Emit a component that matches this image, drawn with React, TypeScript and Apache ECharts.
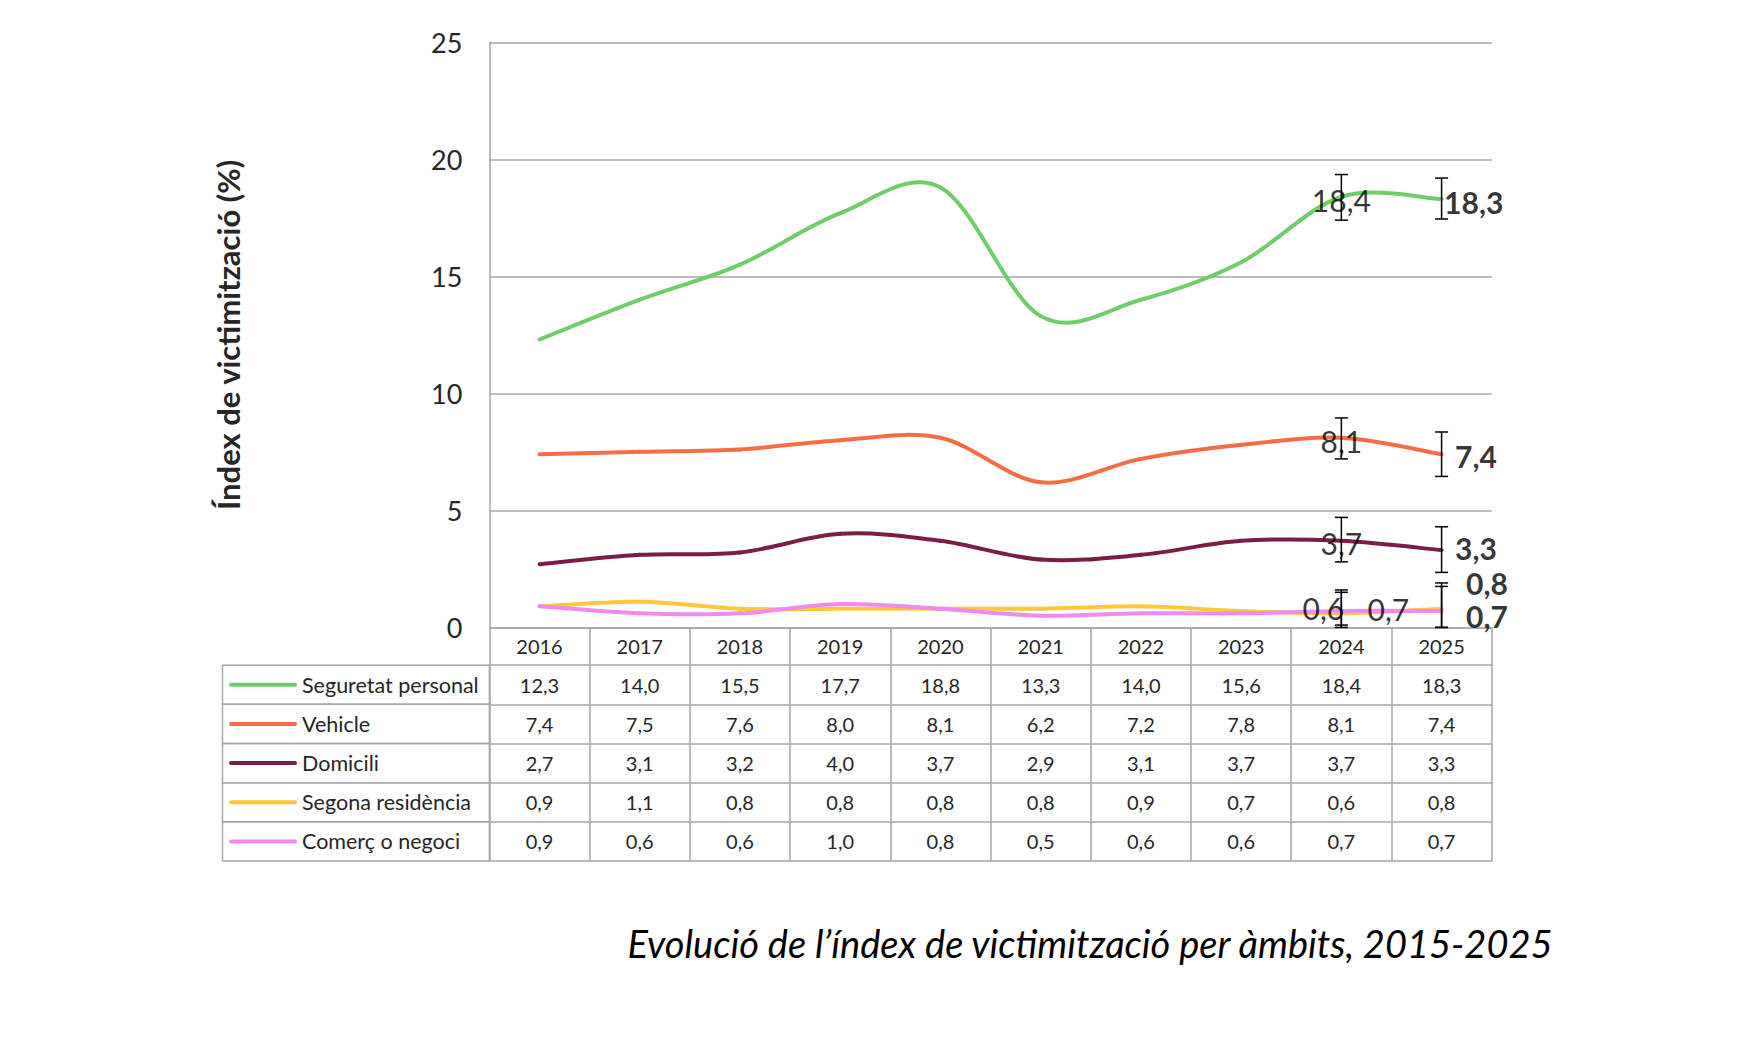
import React, { useEffect, useRef } from "react";
import * as echarts from "echarts";

const years = ["2016", "2017", "2018", "2019", "2020", "2021", "2022", "2023", "2024", "2025"];
const seriesNames = ["Seguretat personal", "Vehicle", "Domicili", "Segona residència", "Comerç o negoci"];
const seguretat = [12.3, 14.0, 15.5, 17.7, 18.8, 13.3, 14.0, 15.6, 18.4, 18.3];
const vehicle = [7.4, 7.5, 7.6, 8.0, 8.1, 6.2, 7.2, 7.8, 8.1, 7.4];
const domicili = [2.7, 3.1, 3.2, 4.0, 3.7, 2.9, 3.1, 3.7, 3.7, 3.3];
const segona = [0.9, 1.1, 0.8, 0.8, 0.8, 0.8, 0.9, 0.7, 0.6, 0.8];
const comerc = [0.9, 0.6, 0.6, 1.0, 0.8, 0.5, 0.6, 0.6, 0.7, 0.7];

// error bars (low, high) for 2024 and 2025
const errIndex = [8, 9];
const seguretatErr = [[17.4, 19.35], [17.45, 19.2]];
const vehicleErr = [[7.2, 8.95], [6.45, 8.35]];
const domiciliErr = [[2.8, 4.7], [2.35, 4.3]];
const segonaErr = [[0.0, 1.6], [0.0, 1.9]];
const comercErr = [[0.1, 1.5], [0.0, 1.75]];

const yTicks = { min: 0, max: 25, interval: 5 };
const titleText = "Evolució de l’índex de victimització per àmbits, 2015-2025";
const yTitle = "Índex de victimització (%)";

const allSeries = [seguretat, vehicle, domicili, segona, comerc];
const allErr = [seguretatErr, vehicleErr, domiciliErr, segonaErr, comercErr];
const colors = ["#6FCD6A", "#F66D45", "#7A1D47", "#FFC73C", "#F08AF0"];

const fmt = (v: number) => v.toFixed(1).replace(".", ",");

const GRID_L = 489.4;
const GRID_R = 1491.7;
const GRID_T = 42.3;
const GRID_B = 627.4;
const HEADER_H = 37.8;
const ROW_H = 39.16;
const TABLE_L = 222.5;
const GRAY = "#A6A6A6";
const FONT = "Lato, 'Noto Sans', sans-serif";

// label placement for the 2024 (normal) and 2025 (bold) labels of each series
const labelCfg: any[][] = [
  [{ position: "inside", offset: [0, 3] }, { position: "right", distance: 2, offset: [0, 3] }],
  [{ position: "inside", offset: [0, 3] }, { position: "right", distance: 13, offset: [0, 2] }],
  [{ position: "inside", offset: [0, 2] }, { position: "right", distance: 13, offset: [0, -2] }],
  [{ position: "inside", offset: [-18, -5] }, { position: "right", distance: 24, offset: [0, -26] }],
  [{ position: "inside", offset: [47, -2] }, { position: "right", distance: 24, offset: [0, 5] }],
];

export default function App() {
  const ref = useRef<HTMLDivElement>(null);
  useEffect(() => {
    if (!ref.current) return;
    const chart = echarts.init(ref.current, null, { renderer: "svg" });

    // smoothed lines (Catmull-Rom style, like spreadsheet smoothing), one bezier segment per point
    const lineSeries = allSeries.map((data, i) => ({
      type: "custom",
      name: seriesNames[i],
      data: data.map((v, k) => [k, v]),
      encode: { x: 0, y: 1 },
      z: 3,
      renderItem: (params: any, api: any) => {
        const k = params.dataIndex;
        const n = data.length;
        if (k >= n - 1) return { type: "group", children: [] };
        const pt = (j: number) => {
          const jj = Math.max(0, Math.min(n - 1, j));
          return api.coord([jj, data[jj]]);
        };
        const p0 = pt(k - 1);
        const p1 = pt(k);
        const p2 = pt(k + 1);
        const p3 = pt(k + 2);
        return {
          type: "bezierCurve",
          shape: {
            x1: p1[0],
            y1: p1[1],
            x2: p2[0],
            y2: p2[1],
            cpx1: p1[0] + (p2[0] - p0[0]) / 6,
            cpy1: p1[1] + (p2[1] - p0[1]) / 6,
            cpx2: p2[0] - (p3[0] - p1[0]) / 6,
            cpy2: p2[1] - (p3[1] - p1[1]) / 6,
          },
          style: { stroke: colors[i], lineWidth: 4, fill: null, lineCap: "round" },
        };
      },
    }));

    const errData: any[] = [];
    allErr.forEach((arr) => {
      arr.forEach((lh, k) => errData.push([errIndex[k], lh[0], lh[1]]));
    });

    const errSeries = {
      type: "custom",
      data: errData,
      encode: { x: 0, y: [1, 2] },
      z: 4,
      renderItem: (params: any, api: any) => {
        const x = api.value(0);
        const p1 = api.coord([x, api.value(1)]);
        const p2 = api.coord([x, api.value(2)]);
        const w = 6.5;
        const st = { stroke: "#000", lineWidth: 1.5 };
        return {
          type: "group",
          children: [
            { type: "line", shape: { x1: p1[0], y1: p1[1], x2: p2[0], y2: p2[1] }, style: st },
            { type: "line", shape: { x1: p1[0] - w, y1: p1[1], x2: p1[0] + w, y2: p1[1] }, style: st },
            { type: "line", shape: { x1: p2[0] - w, y1: p2[1], x2: p2[0] + w, y2: p2[1] }, style: st },
          ],
        };
      },
    };

    const labelData: any[] = [];
    allSeries.forEach((data, i) => {
      errIndex.forEach((idx, k) => {
        const cfg = labelCfg[i][k];
        labelData.push({
          value: [idx, data[idx]],
          label: {
            show: true,
            formatter: fmt(data[idx]),
            fontFamily: FONT,
            fontSize: 30,
            lineHeight: 28,
            fontWeight: k === 1 ? "bold" : "normal",
            color: "#000",
            ...cfg,
          },
        });
      });
    });

    const labelSeries = {
      type: "scatter",
      data: labelData,
      symbolSize: 1,
      itemStyle: { color: "rgba(0,0,0,0)" },
      z: 5,
      silent: true,
    };

    const baseX = {
      type: "category",
      data: years,
      gridIndex: 0,
      position: "bottom",
      boundaryGap: true,
      splitLine: { show: false },
    };

    const xAxes: any[] = [
      {
        ...baseX,
        offset: 0,
        axisLine: { show: true, onZero: false, lineStyle: { color: GRAY, width: 1.5 } },
        axisTick: { show: true, interval: 0, length: HEADER_H, lineStyle: { color: GRAY, width: 1.5 } },
        axisLabel: {
          interval: 0,
          margin: HEADER_H / 2,
          verticalAlign: "middle",
          fontFamily: FONT,
          fontSize: 20,
          color: "#262626",
        },
      },
    ];
    allSeries.forEach((data, i) => {
      xAxes.push({
        ...baseX,
        offset: HEADER_H + ROW_H * i,
        axisLine: { show: true, onZero: false, lineStyle: { color: GRAY, width: 1.5 } },
        axisTick: { show: true, interval: 0, length: ROW_H, lineStyle: { color: GRAY, width: 1.5 } },
        axisLabel: {
          interval: 0,
          margin: ROW_H / 2,
          verticalAlign: "middle",
          fontFamily: FONT,
          fontSize: 20,
          color: "#262626",
          formatter: (_v: string, idx: number) => fmt(data[idx]),
        },
      });
    });
    xAxes.push({
      ...baseX,
      offset: HEADER_H + ROW_H * allSeries.length,
      axisLine: { show: true, onZero: false, lineStyle: { color: GRAY, width: 1.5 } },
      axisTick: { show: false },
      axisLabel: { show: false },
    });

    const graphics: any[] = [];
    seriesNames.forEach((name, i) => {
      const top = GRID_B + HEADER_H + ROW_H * i;
      graphics.push({
        type: "rect",
        shape: { x: TABLE_L, y: top, width: GRID_L - TABLE_L, height: ROW_H },
        style: { fill: "none", stroke: GRAY, lineWidth: 1.5 },
      });
      graphics.push({
        type: "line",
        shape: { x1: 231, y1: top + ROW_H / 2, x2: 295, y2: top + ROW_H / 2 },
        style: { stroke: colors[i], lineWidth: 4, lineCap: "round" },
      });
      graphics.push({
        type: "text",
        x: 302,
        y: top + ROW_H / 2,
        style: {
          text: name,
          fontFamily: FONT,
          fontSize: 21.5,
          fill: "#262626",
          textVerticalAlign: "middle",
          textAlign: "left",
        },
      });
    });
    graphics.push({
      type: "text",
      x: 1090,
      y: 943,
      style: {
        text: titleText,
        fontFamily: FONT,
        fontStyle: "italic",
        fontSize: 38,
        fill: "#000",
        textAlign: "center",
        textVerticalAlign: "middle",
      },
    });

    chart.setOption({
      animation: false,
      backgroundColor: "#fff",
      grid: { left: GRID_L, right: 1744 - GRID_R, top: GRID_T, bottom: 1044 - GRID_B, containLabel: false },
      xAxis: xAxes,
      yAxis: {
        type: "value",
        min: yTicks.min,
        max: yTicks.max,
        interval: yTicks.interval,
        name: yTitle,
        nameLocation: "middle",
        nameRotate: 90,
        nameGap: 246,
        nameTextStyle: { fontFamily: FONT, fontSize: 31, fontWeight: "bold", color: "#262626" },
        axisLine: { show: true, lineStyle: { color: GRAY, width: 1.5 } },
        axisTick: { show: false },
        splitLine: { show: true, lineStyle: { color: GRAY, width: 1.5 } },
        axisLabel: { margin: 27, fontFamily: FONT, fontSize: 27, color: "#262626" },
      },
      series: [...lineSeries, errSeries, labelSeries],
      graphic: graphics,
    });

    return () => chart.dispose();
  }, []);

  return (
    <div
      ref={ref}
      style={{ position: "fixed", left: 0, top: 0, width: 1744, height: 1044, background: "#fff" }}
    />
  );
}
